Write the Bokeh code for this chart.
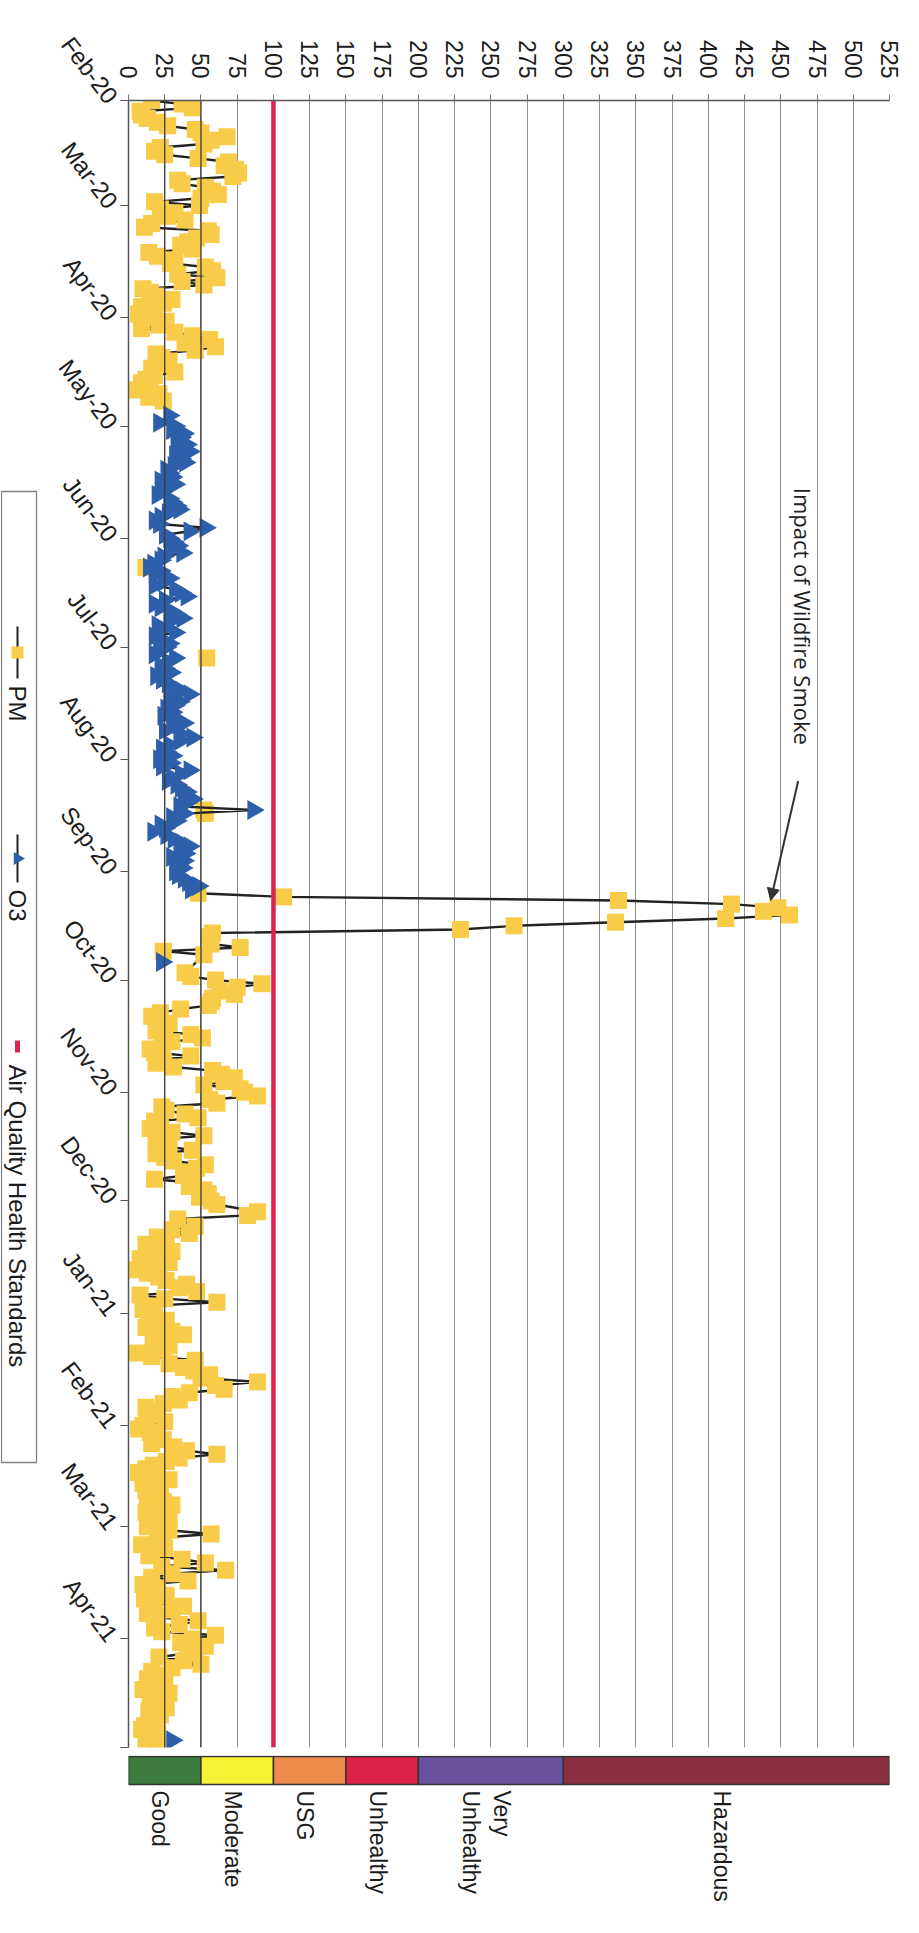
import numpy as np
import pandas as pd
from bokeh.plotting import figure
from bokeh.layouts import row, column
from bokeh.models import Range1d, FixedTicker, DatetimeTickFormatter, Span, Arrow, NormalHead
from bokeh.core.properties import value
from bokeh.embed import file_html
from bokeh.resources import INLINE

# ---------------- data ----------------
# PM readings (clearly separated markers)
pm_dates = [
    "2020-02-01", "2020-02-02", "2020-02-03", "2020-02-05", "2020-02-08", "2020-02-10", "2020-02-11",
    "2020-02-12", "2020-02-14", "2020-02-17", "2020-02-18", "2020-02-21", "2020-02-23", "2020-02-25",
    "2020-02-27", "2020-02-29", "2020-03-01", "2020-03-03", "2020-03-05", "2020-03-07", "2020-03-09",
    "2020-03-11", "2020-03-13", "2020-03-14", "2020-03-16", "2020-03-18", "2020-03-20", "2020-03-21",
    "2020-03-24", "2020-03-26", "2020-03-27", "2020-03-29", "2020-04-01", "2020-04-03", "2020-04-04",
    "2020-04-05", "2020-04-07", "2020-04-08", "2020-04-10", "2020-04-11", "2020-04-12", "2020-04-14",
    "2020-04-16", "2020-04-17", "2020-04-19", "2020-04-22", "2020-04-24",
    "2020-06-09", "2020-07-04", "2020-08-15", "2020-08-16", "2020-09-07",
    "2020-09-08", "2020-09-09", "2020-09-10", "2020-09-11", "2020-09-12", "2020-09-13", "2020-09-14",
    "2020-09-15", "2020-09-16", "2020-09-17", "2020-09-18",
    "2020-09-19", "2020-09-21", "2020-09-22", "2020-09-23", "2020-09-24", "2020-09-29", "2020-09-30",
    "2020-10-01", "2020-10-02", "2020-10-03", "2020-10-05", "2020-10-06", "2020-10-08", "2020-10-09",
    "2020-10-12", "2020-10-14", "2020-10-16", "2020-10-17", "2020-10-19", "2020-10-21", "2020-10-22",
    "2020-10-25", "2020-10-27", "2020-10-28", "2020-10-30", "2020-10-31", "2020-11-02", "2020-11-03",
    "2020-11-05", "2020-11-07", "2020-11-08", "2020-11-09", "2020-11-12", "2020-11-13", "2020-11-14",
    "2020-11-16", "2020-11-17", "2020-11-18", "2020-11-21", "2020-11-24", "2020-11-25", "2020-11-27",
    "2020-11-30", "2020-12-02", "2020-12-04", "2020-12-05", "2020-12-06", "2020-12-08", "2020-12-10",
    "2020-12-12", "2020-12-16", "2020-12-18", "2020-12-20", "2020-12-22", "2020-12-25", "2020-12-26",
    "2020-12-27", "2020-12-29",
    "2021-01-02", "2021-01-04", "2021-01-07", "2021-01-11", "2021-01-12", "2021-01-14", "2021-01-15",
    "2021-01-18", "2021-01-20", "2021-01-22", "2021-01-23", "2021-01-26", "2021-01-29", "2021-02-02",
    "2021-02-04", "2021-02-07", "2021-02-09", "2021-02-11", "2021-02-14", "2021-02-16", "2021-02-19",
    "2021-02-21", "2021-02-22", "2021-02-23", "2021-02-26", "2021-03-02", "2021-03-03", "2021-03-08",
    "2021-03-10", "2021-03-11", "2021-03-13", "2021-03-15", "2021-03-16", "2021-03-21", "2021-03-23",
    "2021-03-26", "2021-03-27", "2021-03-30", "2021-03-31", "2021-04-03", "2021-04-05", "2021-04-06",
    "2021-04-10", "2021-04-16", "2021-04-19", "2021-04-25", "2021-04-27",
]
pm_values = [
    16, 37, 44, 9, 27, 50, 68,
    57, 22, 48, 69, 76, 34, 53,
    62, 18, 49, 32, 39, 11, 57,
    41, 44, 14, 32, 53, 34, 61,
    10, 19, 30, 9, 11, 21, 9,
    32, 56, 39, 46, 19, 23, 25,
    32, 18, 9, 21, 24,
    12, 54, 52, 53, 48,
    107, 338, 416, 448, 438, 456, 412,
    336, 266, 229, 58,
    56, 57, 77, 24, 52, 39, 43,
    60, 92, 75, 73, 58, 55, 36,
    20, 25, 43, 51, 23, 18, 43,
    31, 64, 73, 52, 77, 89, 56,
    23, 39, 48, 18, 30, 52, 19,
    28, 44, 19, 53, 38, 18, 42,
    49, 61, 89, 82, 34, 46, 42,
    26, 16, 28, 6, 21, 35, 47,
    8, 61,
    14, 19, 38, 24, 6, 46, 28,
    56, 89, 66, 42, 24, 19, 7,
    19, 31, 61, 26, 7, 28, 12,
    13, 24, 30, 23, 28, 57, 16,
    37, 53, 67, 16, 41, 11, 38,
    20, 48, 23, 60, 53, 41, 21,
    16, 28, 23, 11, 20,
]
# PM readings inside overlapping clusters of markers
pm_cluster_dates = [
    "2020-02-04", "2020-02-06", "2020-02-07", "2020-02-09", "2020-02-13", "2020-02-15", "2020-02-16",
    "2020-02-19", "2020-02-20", "2020-02-22", "2020-02-24", "2020-02-26", "2020-02-28",
    "2020-03-02", "2020-03-04", "2020-03-06", "2020-03-08", "2020-03-10", "2020-03-12", "2020-03-15",
    "2020-03-17", "2020-03-19", "2020-03-22", "2020-03-23", "2020-03-25", "2020-03-28", "2020-03-30",
    "2020-03-31", "2020-04-02", "2020-04-06", "2020-04-09", "2020-04-13", "2020-04-15", "2020-04-18",
    "2020-04-20", "2020-04-21", "2020-04-23",
    "2020-10-04", "2020-10-07", "2020-10-10", "2020-10-11", "2020-10-13", "2020-10-15", "2020-10-18",
    "2020-10-20", "2020-10-23", "2020-10-24", "2020-10-26", "2020-10-29", "2020-11-01", "2020-11-04",
    "2020-11-06", "2020-11-10", "2020-11-11", "2020-11-15", "2020-11-19", "2020-11-20", "2020-11-22",
    "2020-11-23", "2020-11-26", "2020-11-28", "2020-11-29", "2020-12-01", "2020-12-09", "2020-12-11",
    "2020-12-13", "2020-12-14", "2020-12-15", "2020-12-17", "2020-12-19", "2020-12-21", "2020-12-23",
    "2020-12-24", "2020-12-28", "2020-12-30", "2020-12-31",
    "2021-01-01", "2021-01-03", "2021-01-05", "2021-01-06", "2021-01-08", "2021-01-09", "2021-01-10",
    "2021-01-13", "2021-01-16", "2021-01-17", "2021-01-19", "2021-01-21", "2021-01-24", "2021-01-25",
    "2021-01-27", "2021-01-28", "2021-01-30", "2021-01-31", "2021-02-01", "2021-02-03", "2021-02-05",
    "2021-02-06", "2021-02-08", "2021-02-10", "2021-02-12", "2021-02-13", "2021-02-15", "2021-02-17",
    "2021-02-18", "2021-02-20", "2021-02-24", "2021-02-25", "2021-02-27", "2021-02-28", "2021-03-01",
    "2021-03-04", "2021-03-05", "2021-03-06", "2021-03-07", "2021-03-09", "2021-03-12", "2021-03-14",
    "2021-03-17", "2021-03-18", "2021-03-19", "2021-03-20", "2021-03-22", "2021-03-24", "2021-03-25",
    "2021-03-28", "2021-03-29", "2021-04-01", "2021-04-02", "2021-04-04", "2021-04-07", "2021-04-08",
    "2021-04-09", "2021-04-11", "2021-04-12", "2021-04-13", "2021-04-14", "2021-04-15", "2021-04-17",
    "2021-04-18", "2021-04-20", "2021-04-21", "2021-04-22", "2021-04-23", "2021-04-24", "2021-04-26",
    "2021-04-28", "2021-04-29", "2021-04-30",
]
pm_cluster_values = [
    8, 13, 20, 46, 52, 18, 25,
    66, 74, 72, 37, 58, 50,
    22, 27, 16, 55, 47, 36, 20,
    29, 58, 37, 52, 15, 24, 18,
    7, 26, 44, 60, 28, 16, 12,
    15, 6, 14,
    63, 57, 22, 16, 28, 19, 30,
    15, 24, 19, 58, 66, 80, 61,
    26, 22, 15, 22, 25, 31, 47,
    40, 45, 52, 55, 57, 30, 20,
    12, 22, 30, 8, 18, 13, 26,
    40, 25, 15, 10,
    18, 26, 12, 30, 22, 17, 28,
    16, 38, 45, 50, 60, 30, 35,
    12, 20, 13, 25, 10, 15, 24,
    16, 40, 35, 17, 12, 20, 10,
    22, 18, 18, 12, 28, 20, 13,
    24, 20, 9, 25, 14, 23, 30,
    10, 20, 14, 26, 18, 30, 13,
    35, 18, 44, 36, 46, 38, 50,
    30, 22, 13, 25, 18, 10, 20,
    15, 26, 14, 22, 18, 15, 9,
    14, 20, 12,
]

o3_dates = [
    "2020-04-28", "2020-04-30", "2020-05-01", "2020-05-04", "2020-05-05", "2020-05-08", "2020-05-09",
    "2020-05-11", "2020-05-12", "2020-05-14", "2020-05-16", "2020-05-17", "2020-05-19", "2020-05-21",
    "2020-05-24", "2020-05-26", "2020-05-28", "2020-05-29", "2020-05-30", "2020-05-31", "2020-06-02",
    "2020-06-05", "2020-06-06", "2020-06-09", "2020-06-11", "2020-06-12", "2020-06-14", "2020-06-15",
    "2020-06-17", "2020-06-19", "2020-06-21", "2020-06-23", "2020-06-25", "2020-06-27", "2020-06-28",
    "2020-06-30", "2020-07-02", "2020-07-04", "2020-07-06", "2020-07-08", "2020-07-10", "2020-07-14",
    "2020-07-15", "2020-07-17", "2020-07-20", "2020-07-22", "2020-07-24", "2020-07-26", "2020-07-29",
    "2020-07-31", "2020-08-01", "2020-08-03", "2020-08-04", "2020-08-06", "2020-08-09", "2020-08-12",
    "2020-08-15", "2020-08-18", "2020-08-20", "2020-08-21", "2020-08-24", "2020-08-27", "2020-08-30",
    "2020-09-02", "2020-09-04", "2020-09-05", "2020-09-06", "2020-09-26", "2021-04-29",
]
o3_values = [
    28, 21, 32, 36, 33, 42, 32,
    39, 31, 28, 22, 32, 23, 28,
    35, 22, 21, 53, 42, 25, 31,
    37, 24, 14, 18, 28, 18, 32,
    40, 18, 29, 37, 20, 32, 18,
    28, 21, 32, 22, 29, 23, 42,
    28, 32, 24, 38, 25, 44, 23,
    30, 21, 23, 42, 30, 36, 44,
    86, 33, 25, 17, 36, 39, 34,
    34, 41, 48, 43, 23, 30,
]
o3_cluster_dates = [
    "2020-05-02", "2020-05-03", "2020-05-06", "2020-05-07", "2020-05-10", "2020-05-13", "2020-05-15",
    "2020-05-18", "2020-05-20", "2020-05-22", "2020-05-23", "2020-05-25", "2020-05-27",
    "2020-06-01", "2020-06-03", "2020-06-04", "2020-06-07", "2020-06-08", "2020-06-10", "2020-06-13",
    "2020-06-16", "2020-06-18", "2020-06-20", "2020-06-22", "2020-06-24", "2020-06-26", "2020-06-29",
    "2020-07-01", "2020-07-03", "2020-07-05", "2020-07-07", "2020-07-09", "2020-07-11", "2020-07-12",
    "2020-07-13", "2020-07-16", "2020-07-18", "2020-07-19", "2020-07-21", "2020-07-23", "2020-07-25",
    "2020-07-27", "2020-07-28", "2020-07-30", "2020-08-02", "2020-08-05", "2020-08-07", "2020-08-08",
    "2020-08-10", "2020-08-11", "2020-08-13", "2020-08-14", "2020-08-16", "2020-08-17", "2020-08-19",
    "2020-08-22", "2020-08-23", "2020-08-25", "2020-08-26", "2020-08-28", "2020-08-29", "2020-08-31",
    "2020-09-01", "2020-09-03",
]
o3_cluster_values = [
    30, 38, 40, 35, 36, 26, 30,
    26, 20, 30, 33, 27, 18,
    28, 34, 29, 22, 17, 22, 24,
    36, 25, 22, 33, 28, 24, 22,
    26, 18, 27, 25, 19, 27, 31,
    36, 35, 26, 30, 33, 30, 36,
    35, 28, 26, 29, 36, 27, 33,
    40, 38, 40, 35, 38, 30, 22,
    26, 31, 42, 35, 30, 38, 37,
    32, 38,
]

standard_value = 100
axis_start = "2020-02-01"
axis_end = "2021-05-01"
value_ticks = list(range(0, 526, 25))

aqi_names = ["Good", "Moderate", "USG", "Unhealthy", "Very\nUnhealthy", "Hazardous"]
aqi_bounds = [0, 50, 100, 150, 200, 300, 525]
aqi_colors = ["#3C7A3E", "#F8F237", "#EE8B4C", "#DD2247", "#6B509F", "#8A2F40"]

# ---------------- helpers ----------------
EPOCH = pd.Timestamp("1970-01-01")


def to_ms(d):
    return (pd.to_datetime(d) - EPOCH) / pd.Timedelta(milliseconds=1)


def series(dates_a, vals_a, dates_b, vals_b):
    s = pd.Series(list(vals_a) + list(vals_b), index=pd.to_datetime(list(dates_a) + list(dates_b)))
    s = s.sort_index(kind="stable")
    return [float(v) for v in to_ms(s.index)], [float(v) for v in s.values]


def broken(dates_ms, vals, max_gap_days=12):
    xs, ys = [], []
    prev = None
    for t, v in zip(dates_ms, vals):
        if prev is not None and (t - prev) > max_gap_days * 86400000:
            xs.append(np.nan)
            ys.append(np.nan)
        xs.append(v)
        ys.append(t)
        prev = t
    return xs, ys


pm_ms, pm_v = series(pm_dates, pm_values, pm_cluster_dates, pm_cluster_values)
o3_ms, o3_v = series(o3_dates, o3_values, o3_cluster_dates, o3_cluster_values)
start_ms = float(to_ms(axis_start))
end_ms = float(to_ms(axis_end))
month_ms = [float(v) for v in to_ms(pd.date_range(axis_start, "2021-04-01", freq="MS"))]

# ---------------- layout sizes ----------------
leg_w = 38
W_LEFT, FRAME_W, W_RIGHT = 90, 761, 13
TOP, FRAME_H, BOTTOM = 100, 1647, 8
main_w = W_LEFT + FRAME_W + W_RIGHT
main_h = TOP + FRAME_H + BOTTOM
bar_h = 150
total_h = main_h + bar_h
FONT = "Liberation Sans"

# ---------------- main figure ----------------
p = figure(width=main_w, height=main_h,
           x_range=Range1d(0, 525), y_range=Range1d(end_ms, start_ms),
           y_axis_type="datetime", x_axis_location="above",
           output_backend="svg", toolbar_location=None,
           min_border_left=W_LEFT, min_border_right=W_RIGHT,
           min_border_top=TOP, min_border_bottom=BOTTOM)
p.outline_line_color = None
p.background_fill_color = "white"

xa = p.xaxis[0]
xa.ticker = FixedTicker(ticks=value_ticks)
xa.major_label_orientation = -np.pi / 2
xa.major_label_text_font = FONT
xa.major_label_text_font_size = "23px"
xa.major_label_text_color = "#1c1c1c"
xa.major_label_standoff = 16
xa.major_tick_out = 6
xa.major_tick_in = 0
xa.axis_line_color = "#555555"
xa.axis_line_width = 1.5
xa.major_tick_line_color = "#777777"
xa.minor_tick_line_color = None

ya = p.yaxis[0]
ya.ticker = FixedTicker(ticks=month_ms, minor_ticks=[end_ms])
fmt = "%b-%y"
ya.formatter = DatetimeTickFormatter(microseconds=fmt, milliseconds=fmt, seconds=fmt, minsec=fmt,
                                     minutes=fmt, hourmin=fmt, hours=fmt, days=fmt,
                                     months=fmt, years=fmt)
ya.major_label_orientation = -0.925
ya.major_label_text_font = FONT
ya.major_label_text_font_size = "24px"
ya.major_label_text_color = "#1c1c1c"
ya.major_label_standoff = 8
ya.major_tick_out = 8
ya.major_tick_in = 0
ya.minor_tick_out = 8
ya.minor_tick_in = 0
ya.axis_line_color = "#555555"
ya.axis_line_width = 1.5
ya.major_tick_line_color = "#555555"
ya.minor_tick_line_color = "#555555"

p.xgrid.grid_line_color = "#8f8f8f"
p.xgrid.grid_line_width = 1
p.ygrid.visible = False
for v in (25, 50):
    p.add_layout(Span(location=v, dimension="height", line_color="#3a3a3a", line_width=1.3))

# PM series
pm_lx, pm_ly = broken(pm_ms, pm_v)
p.line(x=pm_lx, y=pm_ly, line_color="#222222", line_width=2.4)
p.scatter(x=pm_v, y=pm_ms, marker="square", size=17, fill_color="#F8CB48", line_color=None)

# O3 series
o3_lx, o3_ly = broken(o3_ms, o3_v)
p.line(x=o3_lx, y=o3_ly, line_color="#222222", line_width=2.4)
p.scatter(x=o3_v, y=o3_ms, marker="triangle", angle=-np.pi / 2, size=20,
          fill_color="#2E5FAA", line_color=None)

# Air quality standard
p.line(x=[standard_value, standard_value], y=[start_ms, end_ms], line_color="#E0204F", line_width=4.5)

# Annotation
p.text(x=[465], y=[float(to_ms("2020-05-18"))], text=["Impact of Wildfire Smoke"],
       angle=-np.pi / 2, text_align="left", text_baseline="middle",
       text_font=value("Open Sans"), text_font_size="22px", text_color="#222222")
p.add_layout(Arrow(end=NormalHead(size=12, fill_color="#333333", line_color="#333333", line_width=1),
                   x_start=462, y_start=float(to_ms("2020-08-07")),
                   x_end=443, y_end=float(to_ms("2020-09-09")),
                   line_color="#333333", line_width=2))

# ---------------- AQI colour bar ----------------
b = figure(width=main_w, height=bar_h, x_range=p.x_range, y_range=Range1d(bar_h, 0),
           x_axis_location=None, y_axis_location=None,
           output_backend="svg", toolbar_location=None,
           min_border_left=W_LEFT, min_border_right=W_RIGHT,
           min_border_top=0, min_border_bottom=0)
b.outline_line_color = None
b.grid.visible = False
b.quad(left=aqi_bounds[:-1], right=aqi_bounds[1:], top=1, bottom=29,
       fill_color=aqi_colors, line_color="#333333", line_width=1.5)
label_x = [(lo + hi) / 2 - 3 for lo, hi in zip(aqi_bounds[:-1], aqi_bounds[1:])]
b.text(x=label_x, y=[35] * len(aqi_names), text=aqi_names, angle=-np.pi / 2,
       text_align="left", text_baseline="middle", text_font=value(FONT),
       text_font_size="23px", text_color="#1c1c1c")

# ---------------- legend (rotated) ----------------
lg = figure(width=leg_w, height=total_h, x_range=Range1d(0, leg_w), y_range=Range1d(total_h, 0),
            x_axis_location=None, y_axis_location=None,
            output_backend="svg", toolbar_location=None, min_border=0)
lg.outline_line_color = None
lg.grid.visible = False
lg.quad(left=1, right=36, top=491, bottom=1462, fill_color=None, line_color="#808080", line_width=1.3)
lx = 17
lg.line(x=[lx, lx], y=[626, 678], line_color="#222222", line_width=2)
lg.scatter(x=[lx], y=[652], marker="square", size=12, fill_color="#F8CB48", line_color=None)
lg.line(x=[lx, lx], y=[834, 882], line_color="#222222", line_width=2)
lg.scatter(x=[lx], y=[858], marker="triangle", angle=-np.pi / 2, size=13, fill_color="#2E5FAA", line_color=None)
lg.line(x=[lx, lx], y=[1040, 1052], line_color="#E0204F", line_width=5)
lg.text(x=[lx, lx, lx], y=[685, 889, 1064], text=["PM", "O3", "Air Quality Health Standards"],
        angle=-np.pi / 2, text_align="left", text_baseline="middle",
        text_font=value(FONT), text_font_size="24px", text_color="#1c1c1c")

layout = row(lg, column(p, b))
open("out.html", "w").write(file_html(layout, INLINE))
